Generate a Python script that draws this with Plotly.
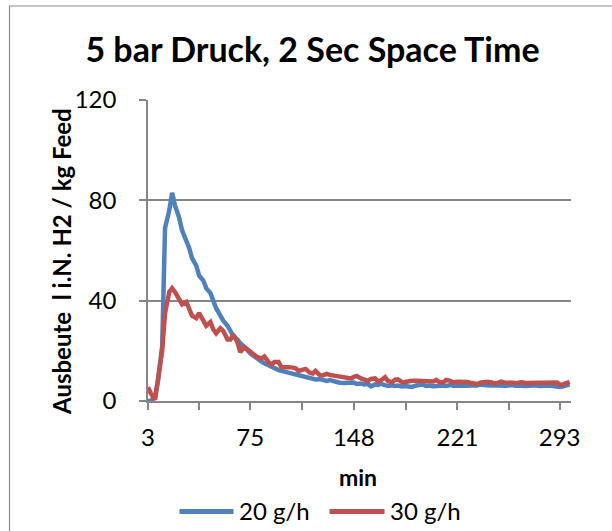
import plotly.graph_objects as go

# Versuchszeit (min) und Ausbeute (l i.N. H2 / kg Feed)
minutes = [3, 5, 8, 10, 13, 15, 18, 20, 22, 25, 27, 30, 32, 34, 37, 39, 42, 44, 47, 49,
           51, 54, 56, 59, 61, 63, 66, 68, 71, 73, 75, 78, 80, 83, 85, 88, 90, 92, 95, 97,
           100, 102, 105, 107, 109, 112, 114, 117, 119, 121, 124, 126, 129, 131, 134, 136, 138, 141, 143, 146,
           148, 150, 153, 155, 158, 160, 163, 165, 167, 170, 172, 175, 177, 179, 182, 184, 187, 189, 192, 194,
           196, 199, 201, 204, 206, 208, 211, 213, 216, 218, 221, 223, 225, 228, 230, 233, 235, 237, 240, 242,
           245, 247, 250, 252, 254, 257, 259, 262, 264, 266, 269, 271, 274, 276, 279, 281, 283, 286, 288, 291,
           293, 295, 298, 300]

yield_20gh = [0, 0, 2, 8, 22, 69, 76, 83, 78, 73, 68, 64, 61, 57, 54, 50, 48, 45, 43, 40,
              37, 34, 32, 30, 28, 26, 24.5, 23, 21.5, 20, 19, 17.8, 16.8, 15.7, 15, 14.2, 13.4, 12.8, 12.3, 12,
              11.6, 11.2, 10.8, 10.4, 10, 9.7, 9.3, 9, 8.8, 8.6, 8.7, 8.4, 8, 8.3, 7.8, 7.5, 7.3, 7.2, 7.3, 7,
              7.4, 6.8, 7, 6.6, 6.8, 5.8, 6.6, 6.4, 6.8, 6.3, 6, 6.3, 6, 6.2, 5.8, 6, 5.7, 5.6, 6.2, 6.3,
              6.6, 6, 6.2, 5.9, 6.1, 6, 6.2, 6, 6.4, 6.1, 6, 6.2, 6, 6.1, 6.3, 6, 6.2, 6.5, 6.3, 6.4,
              6.2, 6.3, 6.1, 6.3, 6.1, 6.2, 6.4, 6.1, 6.3, 6.1, 6, 6.2, 6.1, 6.3, 6, 6.2, 6.1, 6.2, 6, 6.1,
              5.6, 5.8, 6.3, 6.6]

yield_30gh = [5.5, 3, 0.5, 9, 20, 35, 43.5, 45, 43.5, 40.5, 38.5, 39.5, 37, 34, 33, 35, 32, 30, 31.5, 28.5,
              27, 29, 28, 24.5, 24.5, 26.5, 23.5, 19.5, 21.5, 20.5, 19.5, 18.5, 17.5, 17, 17.7, 15.5, 14.5, 15.5, 15.5, 13.5,
              13.7, 13.5, 13.3, 13, 12, 12.3, 12.8, 11.3, 11, 12, 10.3, 10.2, 10.8, 10.4, 10.1, 9.8, 9.6, 9.5, 9.3, 9,
              9.6, 10, 9, 8.6, 8, 8.8, 9, 7.8, 8.2, 9.5, 8, 7.4, 8.5, 8.6, 7.5, 7.6, 8, 8.1, 8.1, 8,
              8.1, 8, 8, 7.8, 8.4, 7.6, 7.4, 8.4, 8, 7.4, 7.7, 7.8, 7.7, 7.6, 7.3, 7, 6.8, 7.3, 7.6, 7.7,
              7.4, 7, 7.3, 7.7, 7.4, 7.2, 7, 7.2, 7.3, 7.5, 7.2, 7.3, 7.2, 7.4, 7.3, 7.3, 7.4, 7.2, 7.5, 7.4,
              6.6, 6.5, 7.2, 7.7]

x_tick_labels = [3, 75, 148, 221, 293]
x_minor_ticks = [39, 111.5, 184.5, 257]
y_ticks = [0, 40, 80, 120]

series_names = ["20 g/h", "30 g/h"]
series_colors = ["#4F81BD", "#C0504D"]

FONT = "Lato, 'Open Sans', sans-serif"
AXIS_GRAY = "#868686"

W, H = 612, 531
L, R, T, B = 148, 41, 100, 130
PW, PH = W - L - R, H - T - B


def px_x(px):
    return (px - L) / PW


def px_y(py):
    return (H - B - py) / PH


fig = go.Figure()
for name, ys, col in zip(series_names, [yield_20gh, yield_30gh], series_colors):
    fig.add_trace(go.Scatter(x=minutes, y=ys, mode="lines", name=name,
                             line=dict(color=col, width=4.5), showlegend=False))

fig.update_layout(
    width=W, height=H,
    margin=dict(l=L, r=R, t=T, b=B, pad=0),
    paper_bgcolor="white", plot_bgcolor="white",
    font=dict(family=FONT, color="black", size=24),
    title=dict(text="<b>5 bar Druck, 2 Sec Space Time</b>",
               x=312.5 / W, xanchor="center", xref="container",
               y=1 - 50 / H, yanchor="middle", yref="container",
               font=dict(size=34, family=FONT, color="black")),
    xaxis=dict(range=[3, 301], tickmode="array", tickvals=x_tick_labels,
               ticktext=[str(v) for v in x_tick_labels],
               showgrid=False, zeroline=False, showline=True,
               linecolor=AXIS_GRAY, linewidth=1.5,
               ticks="outside", ticklen=7, tickcolor=AXIS_GRAY, tickwidth=1.5,
               ticklabelstandoff=7,
               minor=dict(tickvals=x_minor_ticks, ticks="outside", ticklen=7,
                          tickcolor=AXIS_GRAY, tickwidth=1.5, showgrid=False),
               tickfont=dict(size=24)),
    yaxis=dict(range=[0, 120], tickmode="array", tickvals=y_ticks,
               showgrid=True, gridcolor=AXIS_GRAY, gridwidth=1.5,
               zeroline=False, showline=True, linecolor=AXIS_GRAY, linewidth=1.5,
               ticks="outside", ticklen=7, tickcolor=AXIS_GRAY, tickwidth=1.5,
               ticklabelstandoff=18, tickfont=dict(size=24)),
)

# chart border
fig.add_shape(type="rect", xref="paper", yref="paper",
              x0=px_x(9.5), x1=px_x(W + 20), y0=px_y(6), y1=px_y(H + 20),
              line=dict(color="#8c8c8c", width=1.2), fillcolor="rgba(0,0,0,0)", layer="below")

# axis titles
fig.add_annotation(text="<b>Ausbeute  l i.N. H2 / kg Feed</b>", textangle=-90,
                   xref="paper", yref="paper", x=px_x(61), y=px_y(262),
                   xanchor="center", yanchor="middle", showarrow=False,
                   font=dict(size=24, family=FONT, color="black"))
fig.add_annotation(text="<b>min</b>", xref="paper", yref="paper",
                   x=px_x(358), y=px_y(477), xanchor="center", yanchor="middle",
                   showarrow=False, font=dict(size=23, family=FONT, color="black"))

# legend
legend_line_x = [(179.5, 233.5), (329.5, 384.5)]
legend_y = 511.5
for name, col, (a, b) in zip(series_names, series_colors, legend_line_x):
    fig.add_shape(type="line", xref="paper", yref="paper",
                  x0=px_x(a), x1=px_x(b), y0=px_y(legend_y), y1=px_y(legend_y),
                  line=dict(color=col, width=5))
    fig.add_annotation(text=name, xref="paper", yref="paper",
                       x=px_x(b + 3), y=px_y(legend_y - 1), xanchor="left", yanchor="middle",
                       showarrow=False, font=dict(size=24, family=FONT, color="black"))

fig.write_html("out.html")
